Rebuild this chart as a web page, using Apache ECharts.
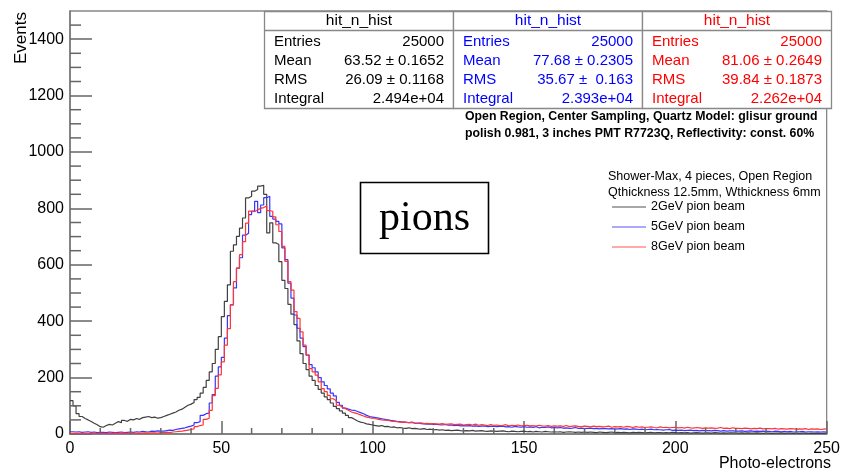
<!DOCTYPE html>
<html>
<head>
<meta charset="utf-8">
<script src="https://cdn.jsdelivr.net/npm/echarts@6/dist/echarts.min.js"></script>
<style>
html,body{margin:0;padding:0;background:#fff;}
#chart{width:843px;height:472px;}
</style>
</head>
<body>
<div id="chart"></div>
<script>
// bins: [i, i+1), i = 0..249
const black = [
118,100,72,62,55,50,44,38,33,26,
24,30,34,32,38,44,40,48,45,52,
50,55,52,58,60,62,58,60,56,58,
62,66,70,74,78,84,88,95,102,106,
112,122,130,145,165,190,220,250,300,345,
416,470,529,648,671,701,730,766,837,843,
861,867,879,882,850,713,749,678,672,611,
545,516,460,425,388,330,285,250,228,205,
190,172,158,145,132,122,110,98,90,82,
74,66,58,52,46,42,40,36,34,32,
30,28,30,26,27,24,25,22,23,21,
20,22,19,20,18,17,19,16,17,15,
16,14,15,13,14,12,13,14,12,11,
12,11,13,10,11,12,10,9,11,10,
9,10,11,9,8,10,9,8,9,10,
8,9,7,9,8,7,9,8,7,8,
7,8,6,7,8,7,6,7,6,7,
6,7,6,5,7,6,5,6,7,5,
6,5,6,5,4,6,5,6,5,4,
5,6,4,5,5,4,5,4,6,5,
4,5,4,5,3,4,5,4,3,4,
4,3,5,4,3,4,3,4,4,3,
3,4,3,4,3,3,4,3,2,3,
3,2,3,3,4,2,3,3,2,3,
2,3,3,2,3,2,3,2,2,3];
const blue = [
8,7,8,6,7,8,6,7,5,6,
6,5,7,6,5,6,7,5,6,7,
6,8,7,9,8,7,10,9,11,10,
10,12,14,13,16,18,20,22,25,28,
32,40,44,66,72,74,110,140,205,238,
272,340,420,458,518,588,625,705,712,778,
790,825,785,812,838,843,772,762,754,745,
660,618,535,482,422,375,340,310,280,246,
235,220,200,185,172,160,145,135,112,102,
92,88,85,84,80,76,72,66,62,60,
58,56,54,52,50,48,47,45,44,42,
42,40,41,38,39,37,36,35,36,34,
34,33,32,34,31,32,30,31,29,30,
29,30,28,29,27,28,29,26,27,28,
26,27,28,25,26,24,27,25,24,26,
24,25,23,26,22,24,23,25,22,23,
22,23,21,22,20,21,23,20,21,19,
20,21,19,20,18,20,19,18,19,17,
18,19,17,18,16,18,17,16,17,15,
16,17,15,16,15,14,15,16,13,14,
13,14,12,13,14,12,13,11,13,12,
12,11,13,12,10,12,10,11,11,10,
10,11,9,10,11,9,10,9,10,9,
9,8,10,9,8,9,8,9,7,8,
8,9,7,8,8,7,8,7,8,7];
const red = [
2,2,1,2,2,1,2,2,1,2,
2,1,2,2,3,2,2,3,2,3,
3,2,3,3,4,3,4,4,3,5,
5,6,5,7,8,9,10,12,14,16,
18,26,30,32,52,56,84,136,162,210,
256,315,374,458,540,588,636,682,748,790,
788,795,800,803,808,792,790,770,742,718,
665,612,540,510,434,410,362,315,280,232,
220,209,185,161,150,137,125,118,102,95,
90,84,78,75,72,68,64,60,58,55,
54,52,50,49,48,46,45,44,42,43,
41,40,42,39,38,40,37,38,36,37,
36,35,37,34,35,36,33,34,35,32,
33,34,32,35,31,33,32,30,33,31,
32,30,31,33,29,31,30,32,29,30,
31,29,30,28,31,29,28,30,27,29,
28,29,27,30,26,28,29,27,26,28,
27,25,28,26,27,25,26,28,24,26,
25,26,24,27,25,23,26,24,25,23,
24,25,23,22,25,23,24,22,23,24,
22,23,21,24,22,21,23,22,20,22,
21,22,20,21,23,20,21,19,22,20,
20,19,21,20,18,20,19,21,18,19,
19,18,20,17,19,18,17,19,18,17,
18,17,19,16,18,17,18,16,17,18];

const seriesNames = ['2GeV pion beam', '5GeV pion beam', '8GeV pion beam'];
const statLabels = ['Entries', 'Mean', 'RMS', 'Integral'];
const statBlack = ['25000', '63.52 \u00b1 0.1652', '26.09 \u00b1 0.1168', '2.494e+04'];
const statBlue  = ['25000', '77.68 \u00b1 0.2305', '35.67 \u00b1  0.163', '2.393e+04'];
const statRed   = ['25000', '81.06 \u00b1 0.2649', '39.84 \u00b1 0.1873', '2.262e+04'];
const statTitle = 'hit_n_hist';
const noteLines = ['Open Region, Center Sampling, Quartz Model: glisur ground',
                   'polish 0.981, 3 inches PMT R7723Q, Reflectivity: const. 60%'];
const legendHeader = ['Shower-Max, 4 pieces, Open Region', 'Qthickness 12.5mm, Wthickness 6mm'];

const FONT = '"Liberation Sans", Arial, Helvetica, sans-serif';

function toXY(arr) {
  const d = arr.map((v, i) => [i, v]);
  d.push([arr.length, arr[arr.length - 1]]);
  return d;
}

const chart = echarts.init(document.getElementById('chart'), null, {renderer: 'canvas'});

const graphics = [];
const boxes = [
  {x: 264, color: '#000000', vals: statBlack},
  {x: 453, color: '#0000ff', vals: statBlue},
  {x: 642, color: '#ff0000', vals: statRed}
];
const rowY = [41.5, 60.5, 79.5, 98.5];
boxes.forEach(b => {
  graphics.push({type: 'rect', shape: {x: b.x + 0.5, y: 11.5, width: 189, height: 97},
    style: {fill: '#fff', stroke: '#888', lineWidth: 1.3}, z: 10});
  graphics.push({type: 'line', shape: {x1: b.x, y1: 30.5, x2: b.x + 189, y2: 30.5},
    style: {stroke: '#888', lineWidth: 1.3}, z: 11});
  graphics.push({type: 'text', x: b.x + 95, y: 21, z: 12,
    style: {text: statTitle, font: '15.5px ' + FONT, fill: b.color,
      align: 'center', verticalAlign: 'middle', textAlign: 'center', textVerticalAlign: 'middle'}});
  statLabels.forEach((lab, k) => {
    graphics.push({type: 'text', x: b.x + 10, y: rowY[k], z: 12,
      style: {text: lab, font: '15px ' + FONT, fill: b.color,
        align: 'left', verticalAlign: 'middle', textAlign: 'left', textVerticalAlign: 'middle'}});
    graphics.push({type: 'text', x: b.x + 180, y: rowY[k], z: 12,
      style: {text: b.vals[k], font: '15px ' + FONT, fill: b.color,
        align: 'right', verticalAlign: 'middle', textAlign: 'right', textVerticalAlign: 'middle'}});
  });
});
noteLines.forEach((t, k) => {
  graphics.push({type: 'text', x: 465, y: 117 + k * 17, z: 12,
    style: {text: t, font: 'bold 12.3px ' + FONT, fill: '#000',
      align: 'left', verticalAlign: 'middle', textAlign: 'left', textVerticalAlign: 'middle'}});
});
legendHeader.forEach((t, k) => {
  graphics.push({type: 'text', x: 608, y: 177 + k * 16, z: 12,
    style: {text: t, font: '12.5px ' + FONT, fill: '#000',
      align: 'left', verticalAlign: 'middle', textAlign: 'left', textVerticalAlign: 'middle'}});
});
graphics.push({type: 'rect', shape: {x: 360.5, y: 182.5, width: 128, height: 71},
  style: {fill: '#fff', stroke: '#000', lineWidth: 1.6}, z: 10});
graphics.push({type: 'text', x: 424.5, y: 219, z: 12,
  style: {text: 'pions', font: '42px "Liberation Serif", "Times New Roman", serif', fill: '#000',
    align: 'center', verticalAlign: 'middle', textAlign: 'center', textVerticalAlign: 'middle'}});
graphics.push({type: 'text', x: 21, y: 12, rotation: Math.PI / 2, z: 12,
  style: {text: 'Events', font: '17px ' + FONT, fill: '#000',
    align: 'right', verticalAlign: 'middle', textAlign: 'right', textVerticalAlign: 'middle'}});
graphics.push({type: 'text', x: 831, y: 464, z: 12,
  style: {text: 'Photo-electrons', font: '16px ' + FONT, fill: '#000',
    align: 'right', verticalAlign: 'middle', textAlign: 'right', textVerticalAlign: 'middle'}});

const lineColors = ['#404040', '#3636ff', '#ff3636'];
const legendColors = ['#8a8a8a', '#8c8cff', '#ff8c8c'];
const datasets = [black, blue, red];

const tickStyle = {color: '#666', width: 1.5};
const axisLineStyle = {color: '#777', width: 1.5};

const option = {
  animation: false,
  backgroundColor: '#fff',
  grid: {left: 70, right: 12, top: 11, bottom: 38, show: true, borderColor: '#888', borderWidth: 1.3, backgroundColor: 'transparent'},
  xAxis: {
    type: 'value', min: 0, max: 250, interval: 50,
    axisLine: {show: true, onZero: false, lineStyle: axisLineStyle},
    axisTick: {show: true, inside: true, length: 13, lineStyle: tickStyle},
    axisLabel: {fontSize: 16, color: '#000', margin: 7, fontFamily: 'Liberation Sans'},
    splitLine: {show: false}
  },
  yAxis: {
    type: 'value', min: 0, max: 1500, interval: 200,
    axisLine: {show: true, onZero: false, lineStyle: axisLineStyle},
    axisTick: {show: true, inside: true, length: 22, lineStyle: tickStyle},
    axisLabel: {fontSize: 16, color: '#000', margin: 6, showMaxLabel: false, fontFamily: 'Liberation Sans',
      formatter: v => String(v)},
    splitLine: {show: false}
  },
  legend: {
    left: 607, top: 195, orient: 'vertical',
    icon: 'rect', itemWidth: 34, itemHeight: 1.3, itemGap: 6,
    textStyle: {fontSize: 12.5, color: '#000', fontFamily: 'Liberation Sans', lineHeight: 14},
    data: seriesNames.map((n, k) => ({name: n, itemStyle: {color: legendColors[k]}}))
  },
  series: datasets.map((arr, k) => ({
    name: seriesNames[k], type: 'line', step: 'end', data: toXY(arr),
    showSymbol: false, symbol: 'none', z: 2 + k,
    lineStyle: {width: 1.2, color: lineColors[k]}, itemStyle: {color: lineColors[k]}
  })),
  graphic: graphics
};
chart.setOption(option);

// minor ticks placed through the axes' own scales
const minorY = [], minorX = [];
for (let v = 50; v < 1500; v += 50) if (v % 200 !== 0) minorY.push(v);
for (let v = 10; v < 250; v += 10) if (v % 50 !== 0) minorX.push(v);
const origin = chart.convertToPixel({gridIndex: 0}, [0, 0]);
const ax0 = origin[0];
const ay0 = origin[1];
const tickGraphics = [];
minorY.forEach(v => {
  const py = chart.convertToPixel({yAxisIndex: 0}, v);
  tickGraphics.push({type: 'line', shape: {x1: ax0, y1: py, x2: ax0 + 11, y2: py},
    style: {stroke: '#666', lineWidth: 1.5}, z: 5, silent: true});
});
minorX.forEach(v => {
  const px = chart.convertToPixel({xAxisIndex: 0}, v);
  tickGraphics.push({type: 'line', shape: {x1: px, y1: ay0, x2: px, y2: ay0 - 6},
    style: {stroke: '#666', lineWidth: 1.5}, z: 5, silent: true});
});
chart.setOption({graphic: graphics.concat(tickGraphics)});
</script>
</body>
</html>
